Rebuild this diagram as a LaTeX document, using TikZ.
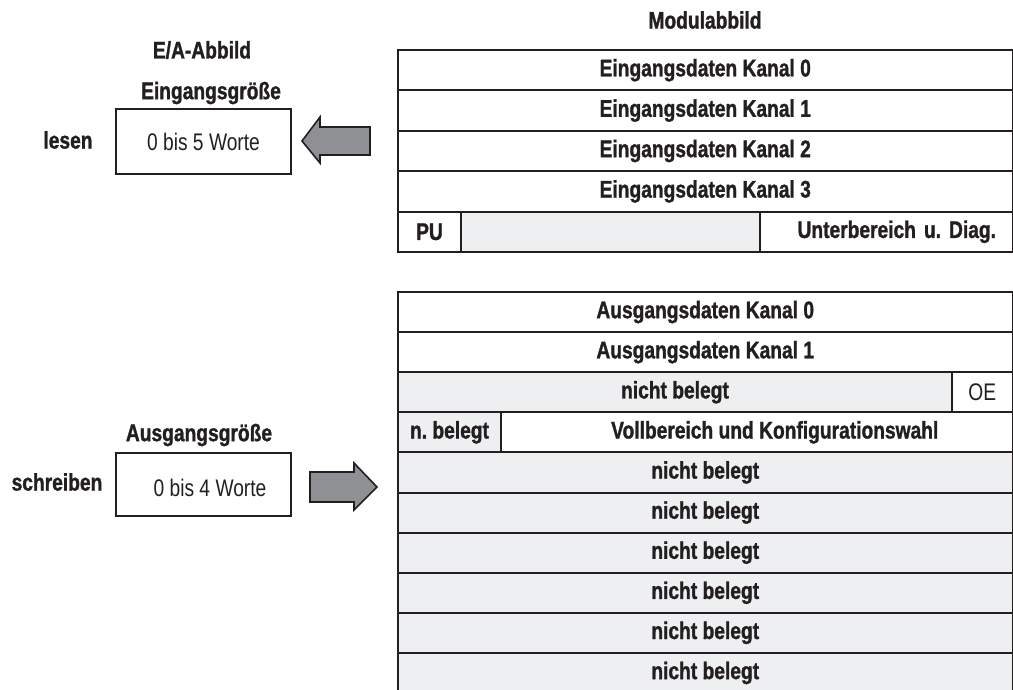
\documentclass[tikz,border=0pt]{standalone}
\usepackage{fontspec}
\setmainfont{Liberation Sans}[FakeStretch=0.8, BoldFeatures={FakeBold=1.2}]
\frenchspacing
\definecolor{ink}{HTML}{231F20}
\definecolor{unused}{HTML}{EEEFF1}
\definecolor{arrowgrey}{HTML}{8E9093}
\begin{document}
\begin{tikzpicture}[x=1pt,y=-1pt,
  every node/.style={font=\fontsize{24}{27}\selectfont\bfseries, text=ink, inner sep=0pt},
  plain/.style={font=\fontsize{24}{27}\selectfont\mdseries},
  cell/.style={draw=ink, line width=2pt, anchor=north west, minimum height=#1},
  cell/.default=40.4,
  ocell/.style={cell=40.1},
  grey/.style={fill=unused},
  blockarrow/.style={draw=ink, line width=1.6pt, fill=arrowgrey, line join=miter}]
\useasboundingbox (0,0) rectangle (1013,690);

% ---------- E/A image (left side) ----------
\node (eaTitle) at (202,50) {E/A-Abbild};
\node (inSize) at (211,93) {Eingangsgröße};
\node[draw=ink, line width=2pt, anchor=north west, minimum width=175, minimum height=65, plain]
  (inBox) at (115,108) {0 bis 5 Worte};
\node (lesen) at (68,140) {lesen};

\node (outSize) at (199,435) {Ausgangsgröße};
\node[draw=ink, line width=2pt, anchor=north west, minimum width=175, minimum height=63]
  (outBox) at (115,452) {};
\node[plain] (outText) at (210,488) {0 bis 4 Worte};
\node (schreiben) at (57,482) {schreiben};

% ---------- block arrows ----------
\draw[blockarrow] (302,141) -- (320,117) -- (320,127) -- (370,127) -- (370,155)
  -- (320,155) -- (320,163) -- cycle;
\draw[blockarrow] (310,472) -- (354,472) -- (354,463) -- (377,487) -- (354,510)
  -- (354,502) -- (310,502) -- cycle;

% ---------- module image: input words ----------
\node (modTitle) at (705,20) {Modulabbild};
\node[cell, minimum width=614.5] (k0) at (397,49)    {Eingangsdaten Kanal 0};
\node[cell, minimum width=614.5] (k1) at (397,89.4)  {Eingangsdaten Kanal 1};
\node[cell, minimum width=614.5] (k2) at (397,129.8) {Eingangsdaten Kanal 2};
\node[cell, minimum width=614.5] (k3) at (397,170.2) {Eingangsdaten Kanal 3};
\node[cell, minimum width=63] (pu) at (397,210.6) {PU};
\node[cell, grey, minimum width=299] (puFree) at (460,210.6) {};
\node[cell, minimum width=252.5, text width=219.5, inner xsep=16.5, align=right]
  (diag) at (759,210.6) {Unterbereich u. Diag.};

% ---------- module image: output words ----------
\begin{scope}
\clip (0,0) rectangle (1013,690);
\node[ocell, minimum width=614.5] (a0) at (397,291)   {Ausgangsdaten Kanal 0};
\node[ocell, minimum width=614.5] (a1) at (397,331.1) {Ausgangsdaten Kanal 1};
\node[ocell, grey, minimum width=554] (w2) at (397,371.2) {nicht belegt};
\node[ocell, plain, minimum width=60.5] (oe) at (951,371.2) {OE};
\node[ocell, grey, minimum width=103] (w3a) at (397,411.3) {n. belegt};
\node[ocell, minimum width=511.5] (w3b) at (500,411.3) {};
\node (w3text) at ([xshift=18]w3b.center) {Vollbereich und Konfigurationswahl};
\node[ocell, grey, minimum width=614.5] (w4) at (397,451.4) {nicht belegt};
\node[ocell, grey, minimum width=614.5] (w5) at (397,491.5) {nicht belegt};
\node[ocell, grey, minimum width=614.5] (w6) at (397,531.6) {nicht belegt};
\node[ocell, grey, minimum width=614.5] (w7) at (397,571.7) {nicht belegt};
\node[ocell, grey, minimum width=614.5] (w8) at (397,611.8) {nicht belegt};
\node[ocell, grey, minimum width=614.5] (w9) at (397,651.9) {nicht belegt};
\end{scope}
\end{tikzpicture}
\end{document}
